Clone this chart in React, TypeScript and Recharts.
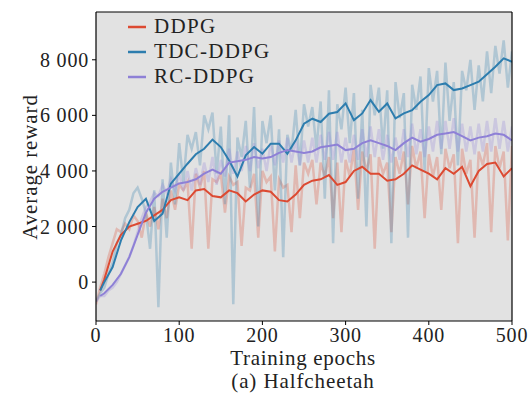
import { LineChart, Line, XAxis, YAxis, CartesianGrid } from 'recharts'

const rawEpochs = [
  0, 5, 10, 15, 20, 25, 30, 35, 40, 45, 50, 55, 60, 65, 70, 75, 80, 85, 90, 95,
  100, 105, 110, 115, 120, 125, 130, 135, 140, 145, 150, 155, 160, 165, 170, 175, 180, 185, 190, 195,
  200, 205, 210, 215, 220, 225, 230, 235, 240, 245, 250, 255, 260, 265, 270, 275, 280, 285, 290, 295,
  300, 305, 310, 315, 320, 325, 330, 335, 340, 345, 350, 355, 360, 365, 370, 375, 380, 385, 390, 395,
  400, 405, 410, 415, 420, 425, 430, 435, 440, 445, 450, 455, 460, 465, 470, 475, 480, 485, 490, 495, 500,
]

const ddpgRaw = [
  -800, -200, 300, 900, 1400, 1900, 1800, 2100, 1900, 2400, 2200, 1600, 2500, 2000, 2700, 1900, 3000, 2300, 3300, 2600,
  3500, 3300, 3600, 1200, 3900, 3400, 4000, 1200, 3700, 3600, 3900, 2500, 3800, 3500, 3600, 1300, 3400, 3300, 3900, 1600,
  4000, 3600, 3800, 1100, 3700, 3400, 3500, 1800, 4200, 2300, 4300, 3900, 4400, 2800, 4300, 3800, 4500, 2300, 4300, 1800,
  4400, 3800, 4800, 2600, 4700, 4000, 4600, 1200, 4500, 3900, 4300, 1800, 4500, 3900, 4700, 2800, 4900, 4100, 4700, 2300,
  4600, 3800, 4500, 2600, 4800, 4100, 4600, 1400, 4800, 3900, 4400, 1600, 4700, 4200, 5000, 1800, 4900, 4100, 4700, 1500, 4900,
]

const tdcRaw = [
  -700, -400, -200, 300, 700, 1400, 1700, 2300, 2600, 3200, 3400, 3000, 2500, 1200, 3300, -900, 3700, 1600, 4300, 2800,
  5000, 3600, 5300, 4800, 5400, 4200, 6000, 5500, 6100, 3900, 5600, 2800, 6000, -800, 5200, 4500, 5800, 3400, 6300, 2000,
  5800, 5000, 6000, 3300, 5500, 900, 5300, 4700, 6200, 4200, 6400, 5600, 6300, 4800, 6500, 3000, 6900, 1400, 6400, 5500,
  7000, 5000, 6800, 3000, 6200, 2000, 7100, 6000, 7000, 4800, 6900, 1400, 7200, 5900, 6800, 1600, 7100, 6200, 7400, 4000,
  7700, 6500, 7600, 4600, 7900, 5800, 7200, 4200, 7600, 6900, 8000, 6200, 7800, 6500, 8300, 6800, 8500, 7500, 8700, 7000, 8300,
]

const rcRaw = [
  -700, -500, -500, -300, -200, 0, 300, 600, 900, 1300, 1800, 2300, 2700, 2900, 3200, 3100, 3500, 3200, 3700, 3300,
  3900, 3300, 4000, 3300, 4100, 3500, 4300, 3600, 4500, 3500, 4400, 3800, 4800, 3900, 4700, 4000, 4900, 4000, 5000, 4100,
  4800, 4000, 5000, 4200, 5100, 4300, 5200, 4300, 5100, 4200, 5100, 4300, 5200, 4300, 5300, 4400, 5400, 4400, 5400, 4300,
  5200, 4300, 5300, 4400, 5500, 4500, 5600, 4500, 5500, 4400, 5300, 4300, 5200, 4400, 5500, 4500, 5700, 4600, 5500, 4500,
  5600, 4700, 5800, 4800, 5800, 4800, 5900, 4700, 5700, 4700, 5600, 4600, 5700, 4700, 5800, 4700, 5900, 4800, 5800, 4700, 5600,
]

const smoothEpochs = [
  5, 10, 20, 30, 40, 50, 60, 70, 80, 90, 100, 110, 120, 130, 140, 150, 160, 170, 180, 190,
  200, 210, 220, 230, 240, 250, 260, 270, 280, 290, 300, 310, 320, 330, 340, 350, 360, 370, 380, 390,
  400, 410, 420, 430, 440, 450, 460, 470, 480, 490, 500,
]

const ddpgSmooth = [
  -300, 100, 1100, 1700, 2000, 2100, 2200, 2400, 2600, 2950, 3050, 2950, 3300, 3350, 3100, 3050, 3300, 3200, 2900, 3150,
  3300, 3250, 2950, 2900, 3150, 3500, 3650, 3700, 3850, 3500, 3600, 4000, 4150, 3900, 3900, 3650, 3700, 3900, 4200, 4050,
  3900, 3700, 4100, 3900, 4150, 3450, 4000, 4250, 4300, 3800, 4100,
]

const tdcSmooth = [
  -300, 0, 540, 1500, 2160, 2700, 3000, 2200, 2460, 3540, 3900, 4260, 4600, 4800, 5130, 4860, 4380, 3800, 4560, 4860,
  4620, 4980, 4980, 4620, 5100, 5700, 5880, 5760, 6060, 6120, 6430, 5830, 6070, 6550, 6130, 6430, 5890, 6070, 6190, 6490,
  6730, 7090, 7150, 6910, 6970, 7090, 7210, 7480, 7750, 8050, 7930,
]

const rcSmooth = [
  -500, -400, -100, 300, 900, 1700, 2500, 3000, 3250, 3400, 3550, 3600, 3700, 3900, 4050, 3900, 4300, 4350, 4400, 4500,
  4450, 4500, 4650, 4750, 4700, 4650, 4700, 4850, 4900, 4950, 4750, 4800, 5000, 5100, 5000, 4900, 4750, 5000, 5200, 5050,
  5150, 5300, 5350, 5400, 5250, 5100, 5200, 5250, 5350, 5300, 5100,
]

const seriesNames = ['DDPG', 'TDC-DDPG', 'RC-DDPG']
const yTicks = [0, 2000, 4000, 6000, 8000]
const xTicks = [0, 100, 200, 300, 400, 500]

const rawData = rawEpochs.map((epoch, i) => ({
  epoch,
  ddpg: ddpgRaw[i],
  tdc: tdcRaw[i],
  rc: rcRaw[i],
}))

const smoothData = smoothEpochs.map((epoch, i) => ({
  epoch,
  ddpg: ddpgSmooth[i],
  tdc: tdcSmooth[i],
  rc: rcSmooth[i],
}))

const colors = {
  ddpg: '#dc4a32',
  tdc: '#2d7dae',
  rc: '#8e80d6',
}

const font = '"Liberation Serif", "DejaVu Serif", serif'

const fmt = (v: number) => (v === 0 ? '0' : `${Math.floor(v / 1000)} ${String(v % 1000).padStart(3, '0')}`)

function LegendBox() {
  const items = [
    { name: seriesNames[0], color: colors.ddpg },
    { name: seriesNames[1], color: colors.tdc },
    { name: seriesNames[2], color: colors.rc },
  ]
  return (
    <div
      style={{
        position: 'absolute',
        left: 128,
        top: 14,
        fontFamily: font,
        fontSize: 21,
        letterSpacing: 1.3,
        color: '#222',
        lineHeight: '25px',
      }}
    >
      {items.map((it) => (
        <div key={it.name} style={{ display: 'flex', alignItems: 'center', height: 25 }}>
          <svg width={24} height={10} style={{ marginRight: 2 }}>
            <line x1={0} y1={5} x2={18} y2={5} stroke={it.color} strokeWidth={2.5} />
          </svg>
          <span>{it.name}</span>
        </div>
      ))}
    </div>
  )
}

export default function App() {
  const tickStyle = { fontFamily: font, fontSize: 20, fill: '#222', letterSpacing: 0.8 }
  const labelStyle = {
    position: 'absolute' as const,
    fontFamily: font,
    fontSize: 21,
    color: '#222',
    whiteSpace: 'nowrap' as const,
  }
  return (
    <div style={{ position: 'absolute', left: 0, top: 0, width: 529, height: 398, background: '#fff' }}>
      <LineChart width={529} height={398} margin={{ top: 11, right: 16, bottom: 47, left: 0 }}>
        <CartesianGrid
          fill="#e2e2e2"
          stroke="#ffffff"
          strokeWidth={1.3}
          horizontalValues={yTicks}
          verticalValues={[100, 200, 300, 400]}
        />
        <XAxis
          xAxisId="b"
          type="number"
          dataKey="epoch"
          domain={[0, 500]}
          ticks={xTicks}
          allowDataOverflow
          height={30}
          tick={tickStyle}
          tickSize={4}
          tickMargin={3}
          tickLine={{ stroke: '#000' }}
          axisLine={{ stroke: '#000', strokeWidth: 1.2 }}
        />
        <XAxis
          xAxisId="t"
          orientation="top"
          type="number"
          domain={[0, 500]}
          height={1}
          tick={false}
          tickLine={false}
          axisLine={{ stroke: '#000', strokeWidth: 1.2 }}
        />
        <YAxis
          yAxisId="l"
          type="number"
          domain={[-1400, 9720]}
          ticks={yTicks}
          allowDataOverflow
          width={96}
          tick={tickStyle}
          tickFormatter={fmt}
          tickSize={4}
          tickMargin={3}
          tickLine={{ stroke: '#000' }}
          axisLine={{ stroke: '#000', strokeWidth: 1.2 }}
        />
        <YAxis
          yAxisId="r"
          orientation="right"
          type="number"
          domain={[-1400, 9720]}
          width={1}
          tick={false}
          tickLine={false}
          axisLine={{ stroke: '#000', strokeWidth: 1.2 }}
        />
        {(['ddpg', 'tdc', 'rc'] as const).map((k) => (
          <Line
            key={`raw-${k}`}
            data={rawData}
            xAxisId="b"
            yAxisId="l"
            dataKey={k}
            stroke={colors[k]}
            strokeOpacity={0.28}
            strokeWidth={2.5}
            dot={false}
            activeDot={false}
            type="linear"
            isAnimationActive={false}
          />
        ))}
        {(['ddpg', 'tdc', 'rc'] as const).map((k, i) => (
          <Line
            key={`smooth-${k}`}
            data={smoothData}
            xAxisId="b"
            yAxisId="l"
            dataKey={k}
            name={seriesNames[i]}
            stroke={colors[k]}
            strokeWidth={2}
            dot={false}
            activeDot={false}
            type="linear"
            isAnimationActive={false}
          />
        ))}
      </LineChart>
      <LegendBox />
      <div
        style={{
          ...labelStyle,
          left: 30,
          top: 167,
          letterSpacing: 0.9,
          transform: 'translate(-50%, -50%) rotate(-90deg)',
        }}
      >
        Average reward
      </div>
      <div style={{ ...labelStyle, left: 0, width: 606, top: 346, textAlign: 'center', letterSpacing: 0.7 }}>
        Training epochs
      </div>
      <div style={{ ...labelStyle, left: 0, width: 606, top: 369, textAlign: 'center', letterSpacing: 0.9 }}>
        (a) Halfcheetah
      </div>
    </div>
  )
}
